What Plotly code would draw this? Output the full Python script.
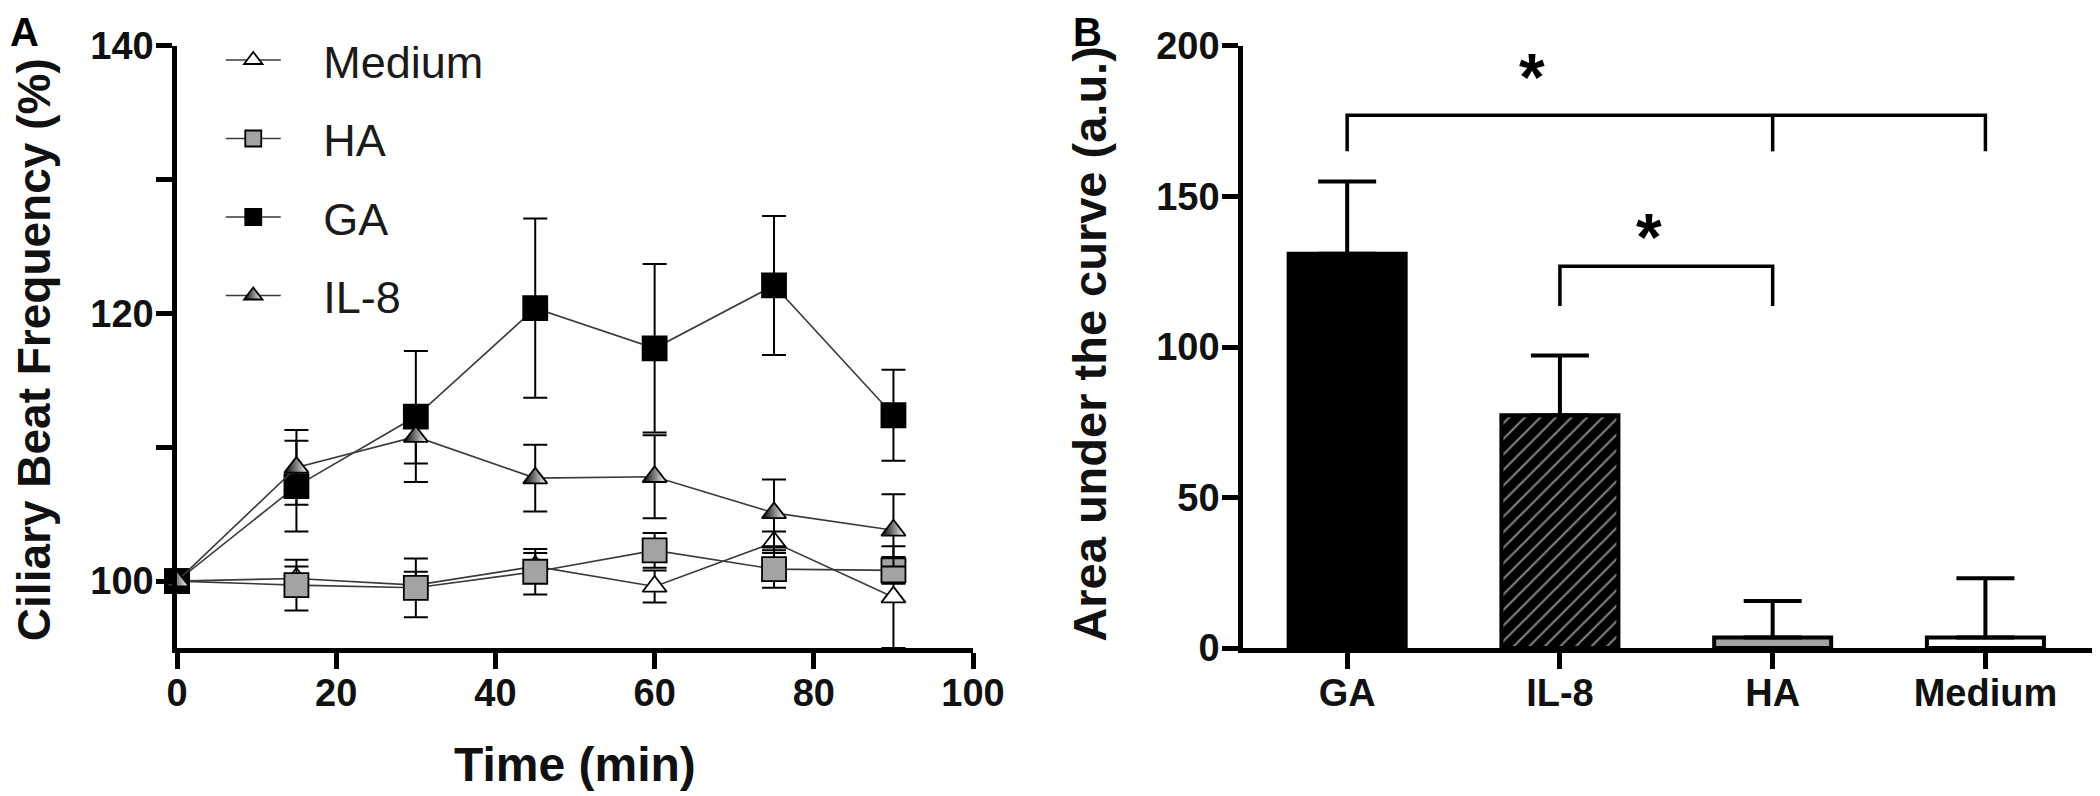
import plotly.graph_objects as go

# ---------------- Panel A data ----------------
time_min = [0, 15, 30, 45, 60, 75, 90]
medium = [100, 100.2, 99.7, 101.1, 99.6, 102.9, 98.8]
medium_err = [None, 0.9, 1.0, 1.0, 1.2, 0.8, 3.8]
ha = [100, 99.7, 99.5, 100.7, 102.3, 100.9, 100.8]
ha_err = [None, 1.9, 2.2, 1.7, 1.3, 1.4, 1.0]
ga = [100, 107.1, 112.3, 120.4, 117.4, 122.1, 112.4]
ga_err = [None, 3.4, 4.9, 6.7, 6.3, 5.2, 3.4]
il8 = [100, 108.5, 110.8, 107.7, 107.8, 105.1, 103.8]
il8_err = [None, 2.8, 2.0, 2.5, 3.1, 2.5, 2.7]

y_ticks_a = [100, 110, 120, 130, 140]
y_ticktext_a = ["100", "", "120", "", "140"]
x_ticks_a = [0, 20, 40, 60, 80, 100]

# ---------------- Panel B data ----------------
groups = ["GA", "IL-8", "HA", "Medium"]
auc = [131, 77.3, 3.5, 3.5]
auc_err = [24, 19.9, 12.1, 19.7]
y_ticks_b = [0, 50, 100, 150, 200]

# significance brackets (group index positions, levels)
br1_x = [0, 0, 3, 3]
br1_y = [165, 177, 177, 165]
br1_mid_x = [2, 2]
br1_mid_y = [177, 165]
br2_x = [1, 1, 2, 2]
br2_y = [113.6, 126.8, 126.8, 113.6]
stars_x = [0.87, 1.42]
stars_y = [189.7, 136.4]

FONT = "Liberation Sans"
LINE_C = "#3a3a3a"
NB = "\u00a0"

fig = go.Figure()

def add_series(name, y, err, symbol, color, gradient=None, size=22):
    marker = dict(symbol=symbol, size=size, color=color,
                  line=dict(color="black", width=1.8))
    if gradient:
        marker["gradient"] = gradient
    fig.add_trace(go.Scatter(
        x=time_min, y=y, name=NB * 3 + name, mode="lines+markers",
        legendgroup=name,
        line=dict(color=LINE_C, width=1.6),
        marker=marker,
        error_y=dict(type="data", array=err, visible=True,
                     color="black", thickness=2, width=12),
        cliponaxis=False, xaxis="x", yaxis="y",
    ))

add_series("Medium", medium, medium_err, "triangle-up", "white", size=21)
add_series("HA", ha, ha_err, "square", "#a3a3a3", size=24)
add_series("GA", ga, ga_err, "square", "black", size=24)
add_series("IL-8", il8, il8_err, "triangle-up", "black",
           gradient=dict(type="horizontal", color="white"), size=21)

# ---------------- Panel B bars ----------------
fig.add_trace(go.Bar(
    x=list(range(len(groups))), y=auc, width=0.55,
    marker=dict(
        color=["black", "black", "#a3a3a3", "white"],
        line=dict(color="black", width=4),
        pattern=dict(shape=["", "/", "", ""], fillmode="overlay",
                     fgcolor="#8c8c8c", size=11, solidity=0.2),
    ),
    error_y=dict(type="data", array=auc_err, symmetric=False,
                 arrayminus=[0, 0, 0, 0], color="black",
                 thickness=4, width=29),
    showlegend=False, xaxis="x2", yaxis="y2",
))

bracket_style = dict(color="black", width=3.5)
for bx, by in [(br1_x, br1_y), (br1_mid_x, br1_mid_y), (br2_x, br2_y)]:
    fig.add_trace(go.Scatter(x=bx, y=by, mode="lines", line=bracket_style,
                             showlegend=False, hoverinfo="skip",
                             cliponaxis=False, xaxis="x2", yaxis="y2"))

for sx, sy in zip(stars_x, stars_y):
    fig.add_annotation(x=sx, y=sy, xref="x2", yref="y2", text="*",
                       showarrow=False,
                       font=dict(family=FONT, size=66, color="black",
                                 weight="bold"),
                       yanchor="middle", xanchor="center")

tick_font = dict(family=FONT, size=38, color="#111", weight="bold")
axis_common = dict(showline=True, linecolor="black", linewidth=4.5,
                   ticks="outside", tickcolor="black", tickwidth=4.5,
                   ticklen=16, showgrid=False, zeroline=False,
                   automargin=False, tickfont=tick_font)

fig.update_layout(
    template="none",
    width=2092, height=788, autosize=False,
    paper_bgcolor="white", plot_bgcolor="white",
    margin=dict(l=0, r=0, t=0, b=0, pad=0),
    xaxis=dict(domain=[0.0808, 0.4613], range=[0, 100],
               tickvals=x_ticks_a, anchor="y", ticklabelstandoff=-8,
               **axis_common),
    yaxis=dict(domain=[0.1878, 0.9518], range=[95, 140],
               tickvals=y_ticks_a, ticktext=y_ticktext_a, anchor="x",
               ticklabelstandoff=-5, **axis_common),
    xaxis2=dict(domain=[0.5903, 0.9976], range=[-0.49, 3.515],
                tickvals=list(range(len(groups))), ticktext=groups,
                anchor="y2", ticklabelstandoff=-8, **axis_common),
    yaxis2=dict(domain=[0.1878, 0.9518], range=[0, 200],
                tickvals=y_ticks_b, anchor="x2", ticklabelstandoff=-5,
                **axis_common),
    legend=dict(x=0.1017, y=0.9794, xanchor="left", yanchor="top",
                font=dict(family=FONT, size=45, color="#1a1a1a"),
                bgcolor="rgba(0,0,0,0)", itemwidth=55,
                tracegroupgap=17, traceorder="grouped"),
    showlegend=True,
)

fig.add_annotation(text="Ciliary Beat Frequency (%)", xref="paper", yref="paper",
                   x=0.0125, y=0.566, textangle=-90, showarrow=False,
                   font=dict(family=FONT, size=46, color="#111", weight="bold"),
                   xanchor="center", yanchor="middle")
fig.add_annotation(text="Time (min)", xref="paper", yref="paper",
                   x=0.271, y=0.040, showarrow=False,
                   font=dict(family=FONT, size=48, color="#111", weight="bold"),
                   xanchor="center", yanchor="middle")
fig.add_annotation(text="Area under the curve (a.u.)", xref="paper", yref="paper",
                   x=0.5172, y=0.574, textangle=-90, showarrow=False,
                   font=dict(family=FONT, size=47, color="#111", weight="bold"),
                   xanchor="center", yanchor="middle")
panel_font = dict(family=FONT, size=40, color="black", weight="bold")
fig.add_annotation(text="A", xref="paper", yref="paper", x=0.0, y=0.969,
                   showarrow=False, font=panel_font, xanchor="left", yanchor="middle")
fig.add_annotation(text="B", xref="paper", yref="paper", x=0.508, y=0.969,
                   showarrow=False, font=panel_font, xanchor="left", yanchor="middle")

fig.write_html("out.html")
